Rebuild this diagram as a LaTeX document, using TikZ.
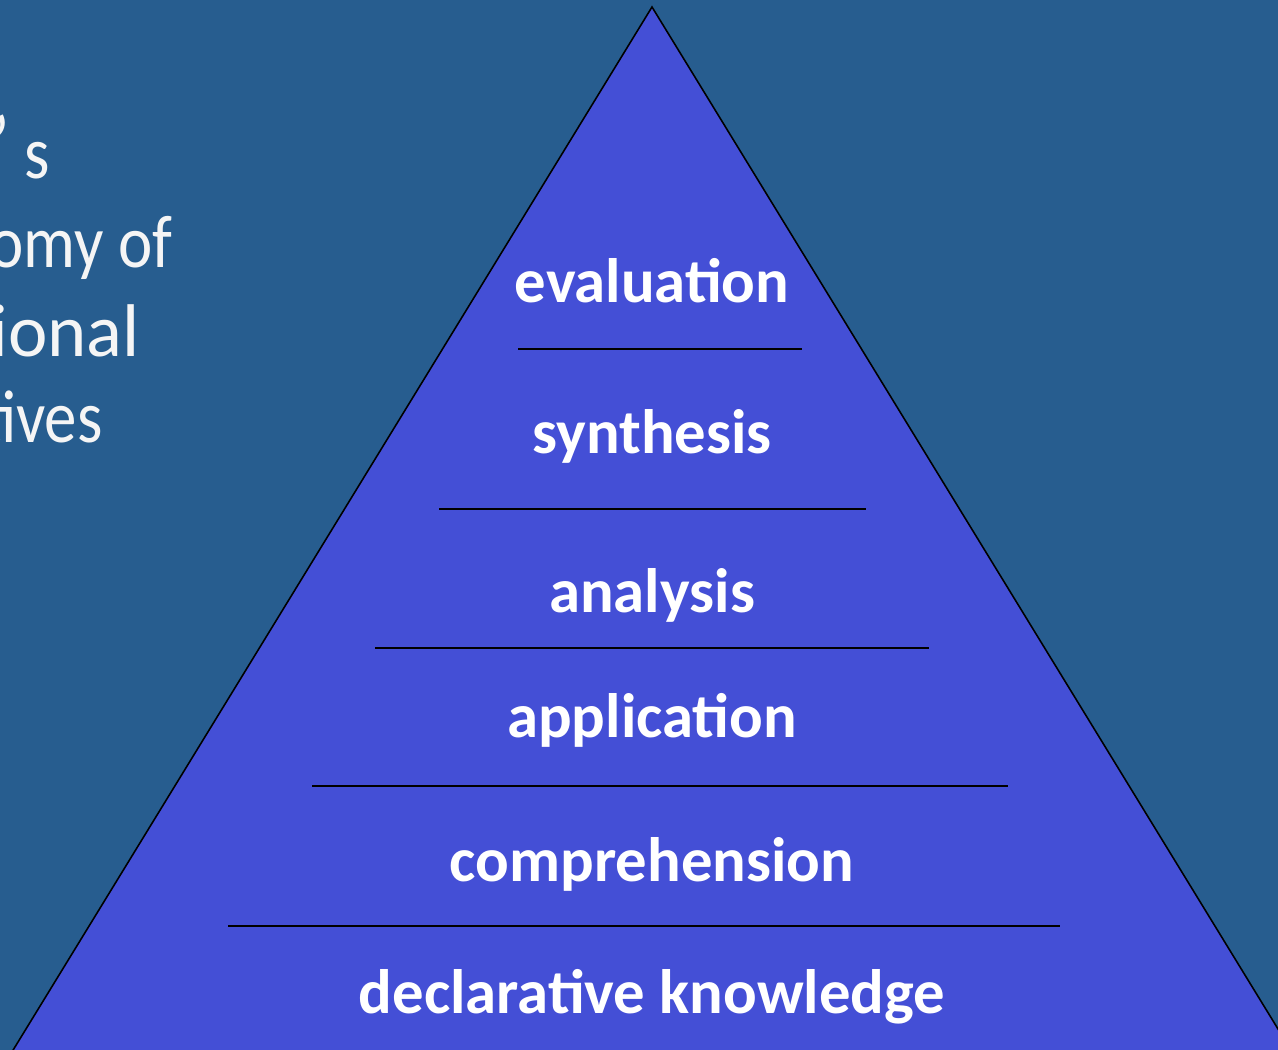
\documentclass[tikz,border=0pt]{standalone}
\usepackage{fontspec}
\setmainfont{Carlito}
\newfontfamily\titlefont[FakeStretch=0.87]{Carlito}
\newfontfamily\titlewide{Carlito}
\usetikzlibrary{positioning}
\definecolor{slide}{RGB}{39,93,143}
\definecolor{pyramid}{RGB}{68,79,214}
\tikzset{
  tierlabel/.style={anchor=base, inner sep=0pt, text=white, font=\fontsize{35.7}{43}\selectfont\bfseries},
  tierline/.style={draw=black, line width=1.1pt},
  titleline/.style={anchor=base east, inner sep=0pt, text=white!96!black, font=\titlefont\fontsize{42.5}{51}\selectfont}
}

\begin{document}
\begin{tikzpicture}[x=0.02cm,y=-0.02cm]
  \useasboundingbox (0,0) rectangle (1278,1050);
  \clip (0,0) rectangle (1278,1050);

  % slide background
  \fill[slide] (0,0) rectangle (1278,1050);

  % title (cut off at the left)
  \node[titleline] (title1) at (50,179) {Bloom\raisebox{0.15em}{’} s};
  \node[titleline] (title2) at (173,268) {Taxonomy of};
  \node[titleline, font=\titlewide\fontsize{42.5}{51}\selectfont] (title3) at (140,357) {Educational};
  \node[titleline] (title4) at (103,443) {Objectives};

  % pyramid
  \draw[fill=pyramid, line width=0.9pt, line join=miter] (652,7) -- (1297,1060) -- (7,1060) -- cycle;

  % dividers
  \draw[tierline] (518,349) -- (802,349);
  \draw[tierline] (439,509) -- (866,509);
  \draw[tierline] (375,648) -- (929,648);
  \draw[tierline] (312,786) -- (1008,786);
  \draw[tierline] (228,926) -- (1060,926);

  % levels
  \node[tierlabel] (evaluation) at (652,303) {evaluation};
  \node[tierlabel] (synthesis) at (652,454) {synthesis};
  \node[tierlabel] (analysis) at (652,612) {analysis};
  \node[tierlabel] (application) at (652,737) {application};
  \node[tierlabel] (comprehension) at (652,881) {comprehension};
  \node[tierlabel] (declarative) at (652,1013) {declarative knowledge};

\end{tikzpicture}
\end{document}
